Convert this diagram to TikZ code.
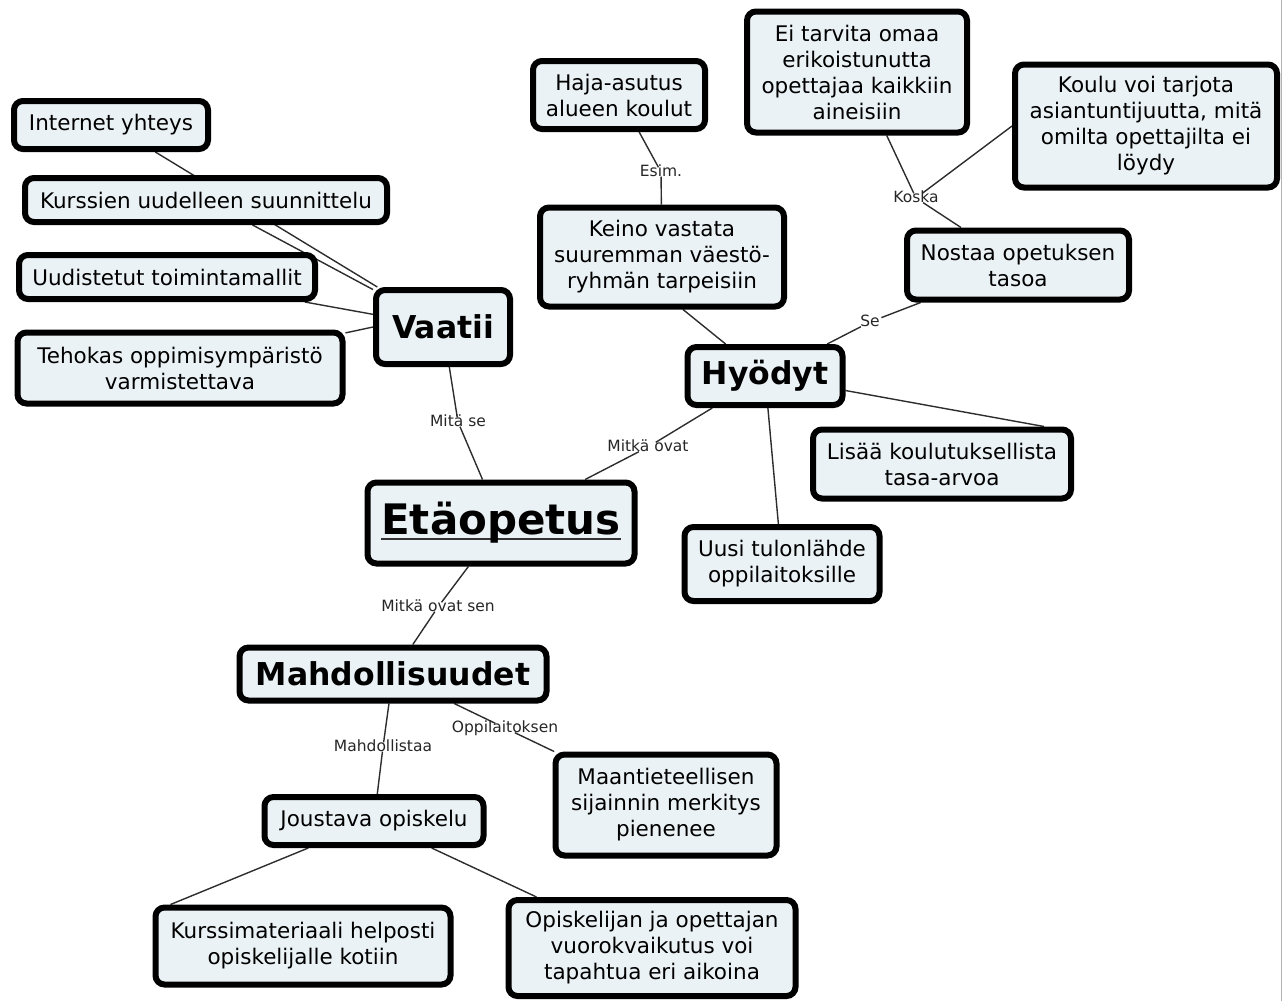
\documentclass[tikz,border=0pt]{standalone}
\usepackage{fontspec}
\setmainfont{DejaVu Sans}
\usepackage{tikz}
\usetikzlibrary{backgrounds}

\definecolor{conceptfill}{RGB}{235,242,245}
\definecolor{linkgray}{RGB}{45,45,45}

\newsavebox{\ulbox}
\newcommand{\bigul}[1]{\sbox{\ulbox}{#1}\rlap{\raisebox{-5pt}{\color{black!80}\rule{\wd\ulbox}{2.2pt}}}\usebox{\ulbox}}

\tikzset{
  concept/.style={draw=black, line width=6pt, rounded corners=9pt, fill=conceptfill, align=center, inner sep=2pt, font=\fontsize{21.5}{26}\selectfont},
  bigconcept/.style={concept, font=\fontsize{31.5}{36}\selectfont\bfseries},
  linkword/.style={inner xsep=1.5pt, inner ysep=0pt, text height=9pt, text depth=0pt, font=\fontsize{15.5}{18}\selectfont, text=black!85},
  conn/.style={draw=linkgray, line width=1.4pt}
}

\begin{document}
\begin{tikzpicture}[x=1pt, y=-1pt]
            \useasboundingbox (0,0) rectangle (1288,1001);
            \draw[black!30, line width=1pt] (1281,0) -- (1281,1001);

            \node[bigconcept, minimum width=267pt, minimum height=81pt, font=\fontsize{42}{48}\selectfont\bfseries] (eta) at (501,523) {\bigul{Etäopetus}};
            \node[bigconcept, minimum width=134pt, minimum height=74pt] (vaatii) at (443,327) {Vaatii};
            \node[bigconcept, minimum width=155pt, minimum height=58pt] (hyodyt) at (765,376) {Hyödyt};
            \node[bigconcept, minimum width=307pt, minimum height=53pt] (mahd) at (393,674) {Mahdollisuudet};

            \node[concept, minimum width=194pt, minimum height=48pt] (internet) at (111,125) {Internet yhteys};
            \node[concept, minimum width=362pt, minimum height=44pt] (kurssien) at (206,200) {Kurssien uudelleen suunnittelu};
            \node[concept, minimum width=296pt, minimum height=44pt] (uudistetut) at (167,277) {Uudistetut toimintamallit};
            \node[concept, minimum width=325pt, minimum height=71pt] (tehokas) at (180,368) {Tehokas oppimisympäristö\\varmistettava};

            \node[concept, minimum width=172pt, minimum height=68pt] (haja) at (619,95) {Haja-asutus\\alueen koulut};
            \node[concept, minimum width=244pt, minimum height=99pt] (keino) at (662,257) {Keino vastata\\suuremman väestö-\\ryhmän tarpeisiin};
            \node[concept, minimum width=220pt, minimum height=121pt] (eitarvita) at (857,72) {Ei tarvita omaa\\erikoistunutta\\opettajaa kaikkiin\\aineisiin};
            \node[concept, minimum width=262pt, minimum height=123pt] (koulu) at (1146,126) {Koulu voi tarjota\\asiantuntijuutta, mitä\\omilta opettajilta ei\\löydy};
            \node[concept, minimum width=222pt, minimum height=69pt] (nostaa) at (1018,265) {Nostaa opetuksen\\tasoa};
            \node[concept, minimum width=258pt, minimum height=69pt] (lisaa) at (942,464) {Lisää koulutuksellista\\tasa-arvoa};
            \node[concept, minimum width=195pt, minimum height=74pt] (uusi) at (782,564) {Uusi tulonlähde\\oppilaitoksille};

            \node[concept, minimum width=219pt, minimum height=48pt] (joustava) at (374,821) {Joustava opiskelu};
            \node[concept, minimum width=221pt, minimum height=101pt] (maant) at (666,805) {Maantieteellisen\\sijainnin merkitys\\pienenee};
            \node[concept, minimum width=295pt, minimum height=77pt] (kurssimat) at (303,946) {Kurssimateriaali helposti\\opiskelijalle kotiin};
            \node[concept, minimum width=287pt, minimum height=96pt] (opiskelijan) at (652,948) {Opiskelijan ja opettajan\\vuorokvaikutus voi\\tapahtua eri aikoina};

            \node[linkword] (mitase) at (458,422) {Mitä se};
            \node[linkword] (mitkaovat) at (648,447) {Mitkä ovat};
            \node[linkword] (mitkasen) at (438,607) {Mitkä ovat sen};
            \node[linkword] (esim) at (661,172) {Esim.};
            \node[linkword] (koska) at (916,198) {Koska};
            \node[linkword] (se) at (870,322) {Se};
            \node[linkword] (mahdollistaa) at (383,747) {Mahdollistaa};
            \node[linkword] (oppil) at (505,728) {Oppilaitoksen};

            \begin{scope}[on background layer]
            \draw[conn] (internet) -- (vaatii);
            \draw[conn] (kurssien) -- (vaatii);
            \draw[conn] (uudistetut) -- (vaatii);
            \draw[conn] (tehokas) -- (vaatii.west);
            \draw[conn] (vaatii) -- (mitase);
            \draw[conn] (mitase) -- (eta);
            \draw[conn] (eta) -- (mitkaovat);
            \draw[conn] (mitkaovat) -- (hyodyt);
            \draw[conn] (eta) -- (mitkasen);
            \draw[conn] (mitkasen) -- (mahd);
            \draw[conn] (haja) -- (esim);
            \draw[conn] (esim) -- (keino);
            \draw[conn] (hyodyt) -- ([xshift=21pt]keino.south);
            \draw[conn] (hyodyt) -- (se);
            \draw[conn] (se) -- (nostaa);
            \draw[conn] (nostaa) -- (koska);
            \draw[conn] (koska) -- (eitarvita);
            \draw[conn] (koska) -- (koulu.west);
            \draw[conn] (hyodyt) -- ([xshift=-30pt]lisaa.north east);
            \draw[conn] (hyodyt) -- (uusi);
            \draw[conn] (mahd) -- (mahdollistaa);
            \draw[conn] (mahdollistaa) -- (joustava);
            \draw[conn] (mahd) -- (oppil);
            \draw[conn] (oppil) -- (maant);
            \draw[conn] (joustava) -- ([xshift=18pt]kurssimat.north west);
            \draw[conn] (joustava) -- ([xshift=31pt]opiskelijan.north west);
            \end{scope}
\end{tikzpicture}
\end{document}
